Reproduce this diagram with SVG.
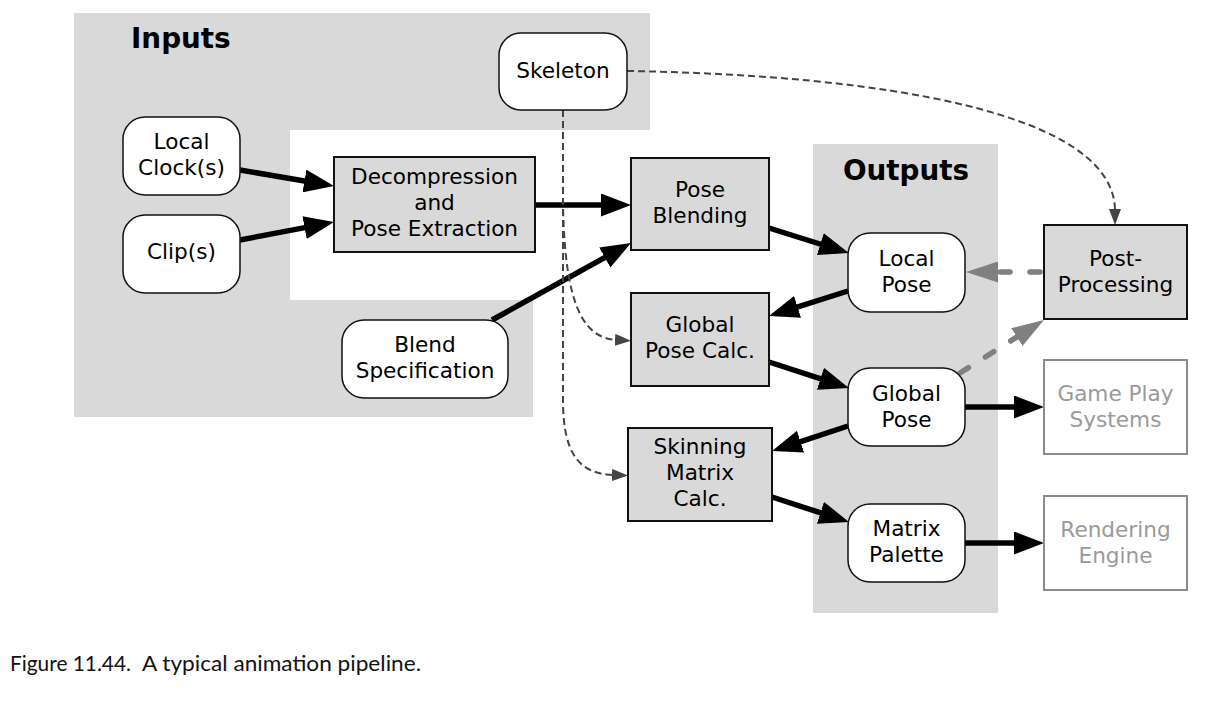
<svg xmlns="http://www.w3.org/2000/svg" width="1211" height="701" viewBox="0 0 1211 701">
<defs>
<style>
.bg{fill:#d9d9d9;stroke:none}
.rn{fill:#fff;stroke:#111;stroke-width:1.5}
.bx{fill:#d9d9d9;stroke:#111;stroke-width:2}
.ext{fill:#fff;stroke:#8c8c8c;stroke-width:2}
.t{font-family:"DejaVu Sans",Verdana,sans-serif;font-size:21.6px;fill:#000;text-anchor:middle}
.tg{fill:#9a9a9a}
.h{font-family:"DejaVu Sans",Verdana,sans-serif;font-size:27.8px;font-weight:bold;fill:#000}
.cap{font-family:Lato,"Liberation Sans",sans-serif;font-size:22px;fill:#111}
.a{fill:none;stroke:#000;stroke-width:5.5;marker-end:url(#ah)}
.g{fill:none;stroke:#808080;stroke-width:5.5;stroke-dasharray:10 20;stroke-linecap:round;marker-end:url(#gh)}
.d{fill:none;stroke:#444;stroke-width:2;stroke-dasharray:7 4;marker-end:url(#dh)}
</style>
<marker id="ah" markerUnits="userSpaceOnUse" markerWidth="30" markerHeight="23" refX="3" refY="11.5" orient="auto" viewBox="0 0 30 23"><path d="M0,0 L30,11.5 L0,23 z" fill="#000"/></marker>
<marker id="gh" markerUnits="userSpaceOnUse" markerWidth="32" markerHeight="21" refX="3" refY="10.5" orient="auto" viewBox="0 0 32 21"><path d="M0,0 L32,10.5 L0,21 z" fill="#808080"/></marker>
<marker id="dh" markerUnits="userSpaceOnUse" markerWidth="16" markerHeight="12" refX="2" refY="6" orient="auto" viewBox="0 0 16 12"><path d="M0,0 L16,6 L0,12 z" fill="#444"/></marker>
</defs>
<rect width="1211" height="701" fill="#fff"/>
<g id="inputs-region">
<path class="bg" d="M74,13 H650 V130 H290 V300 H533 V417 H74 Z"/>
<text class="h" x="131" y="48">Inputs</text>
</g>
<g id="outputs-region">
<rect class="bg" x="813" y="144" width="185" height="469"/>
<text class="h" x="906" y="180" text-anchor="middle">Outputs</text>
</g>
<g id="connectors">
<path class="a" d="M240,170 L307.4,181.5"/>
<path class="a" d="M240,240 L307.5,227.1"/>
<path class="a" d="M535,205 L604,205"/>
<path class="a" d="M492,320 L607.4,256.1"/>
<path class="a" d="M769,228 L823.2,245"/>
<path class="a" d="M848,291 L794.7,307.8"/>
<path class="a" d="M769,362 L823.3,379.7"/>
<path class="a" d="M848,426 L797.7,442.6"/>
<path class="a" d="M772,497 L823.3,513.7"/>
<path class="a" d="M965,407 L1017,407"/>
<path class="a" d="M965,543 L1017,543"/>
<path class="g" d="M1040,272 L995,272"/>
<path class="g" d="M960,373 L1019.4,335.4"/>
<path class="d" d="M627,71 C880,75 1115,112 1115,211"/>
<path class="d" d="M563,110 L563,205 C565,310 585,338 617,340"/>
<path class="d" d="M563,110 L563,400 C563,455 580,474 614,475"/>
</g>
<g id="skeleton"><rect class="rn" x="499" y="33" width="128" height="77" rx="22"/><text class="t" x="563" y="78">Skeleton</text></g>
<g id="local-clock"><rect class="rn" x="123" y="117" width="117" height="78" rx="22"/><text class="t" x="181.5" y="149">Local</text><text class="t" x="181.5" y="175">Clock(s)</text></g>
<g id="clips"><rect class="rn" x="123" y="215" width="117" height="78" rx="22"/><text class="t" x="181.5" y="259">Clip(s)</text></g>
<g id="decompression"><rect class="bx" x="334" y="157" width="201" height="95"/><text class="t" x="434.5" y="184">Decompression</text><text class="t" x="434.5" y="210">and</text><text class="t" x="434.5" y="236">Pose Extraction</text></g>
<g id="pose-blending"><rect class="bx" x="631" y="158" width="138" height="92"/><text class="t" x="700" y="197">Pose</text><text class="t" x="700" y="223">Blending</text></g>
<g id="blend-spec"><rect class="rn" x="342" y="320" width="166" height="78" rx="22"/><text class="t" x="425" y="352">Blend</text><text class="t" x="425" y="378">Specification</text></g>
<g id="global-pose-calc"><rect class="bx" x="631" y="293" width="138" height="93"/><text class="t" x="700" y="332">Global</text><text class="t" x="700" y="358">Pose Calc.</text></g>
<g id="skinning"><rect class="bx" x="628" y="428" width="144" height="93"/><text class="t" x="700" y="454">Skinning</text><text class="t" x="700" y="480">Matrix</text><text class="t" x="700" y="506">Calc.</text></g>
<g id="local-pose"><rect class="rn" x="848" y="233" width="117" height="79" rx="22"/><text class="t" x="906.5" y="266">Local</text><text class="t" x="906.5" y="292">Pose</text></g>
<g id="global-pose"><rect class="rn" x="848" y="368" width="117" height="78" rx="22"/><text class="t" x="906.5" y="401">Global</text><text class="t" x="906.5" y="427">Pose</text></g>
<g id="matrix-palette"><rect class="rn" x="848" y="504" width="117" height="78" rx="22"/><text class="t" x="906.5" y="536">Matrix</text><text class="t" x="906.5" y="562">Palette</text></g>
<g id="post-processing"><rect class="bx" x="1044" y="225" width="143" height="94"/><text class="t" x="1115.5" y="266">Post-</text><text class="t" x="1115.5" y="292">Processing</text></g>
<g id="game-play"><rect class="ext" x="1044" y="360" width="143" height="94"/><text class="t tg" x="1115.5" y="401">Game Play</text><text class="t tg" x="1115.5" y="427">Systems</text></g>
<g id="rendering"><rect class="ext" x="1044" y="496" width="143" height="94"/><text class="t tg" x="1115.5" y="537">Rendering</text><text class="t tg" x="1115.5" y="563">Engine</text></g>
<g id="caption"><text class="cap" x="10" y="671" textLength="121" lengthAdjust="spacingAndGlyphs">Figure 11.44.</text><text class="cap" x="142" y="671" textLength="279" lengthAdjust="spacingAndGlyphs">A typical animation pipeline.</text></g>
</svg>
